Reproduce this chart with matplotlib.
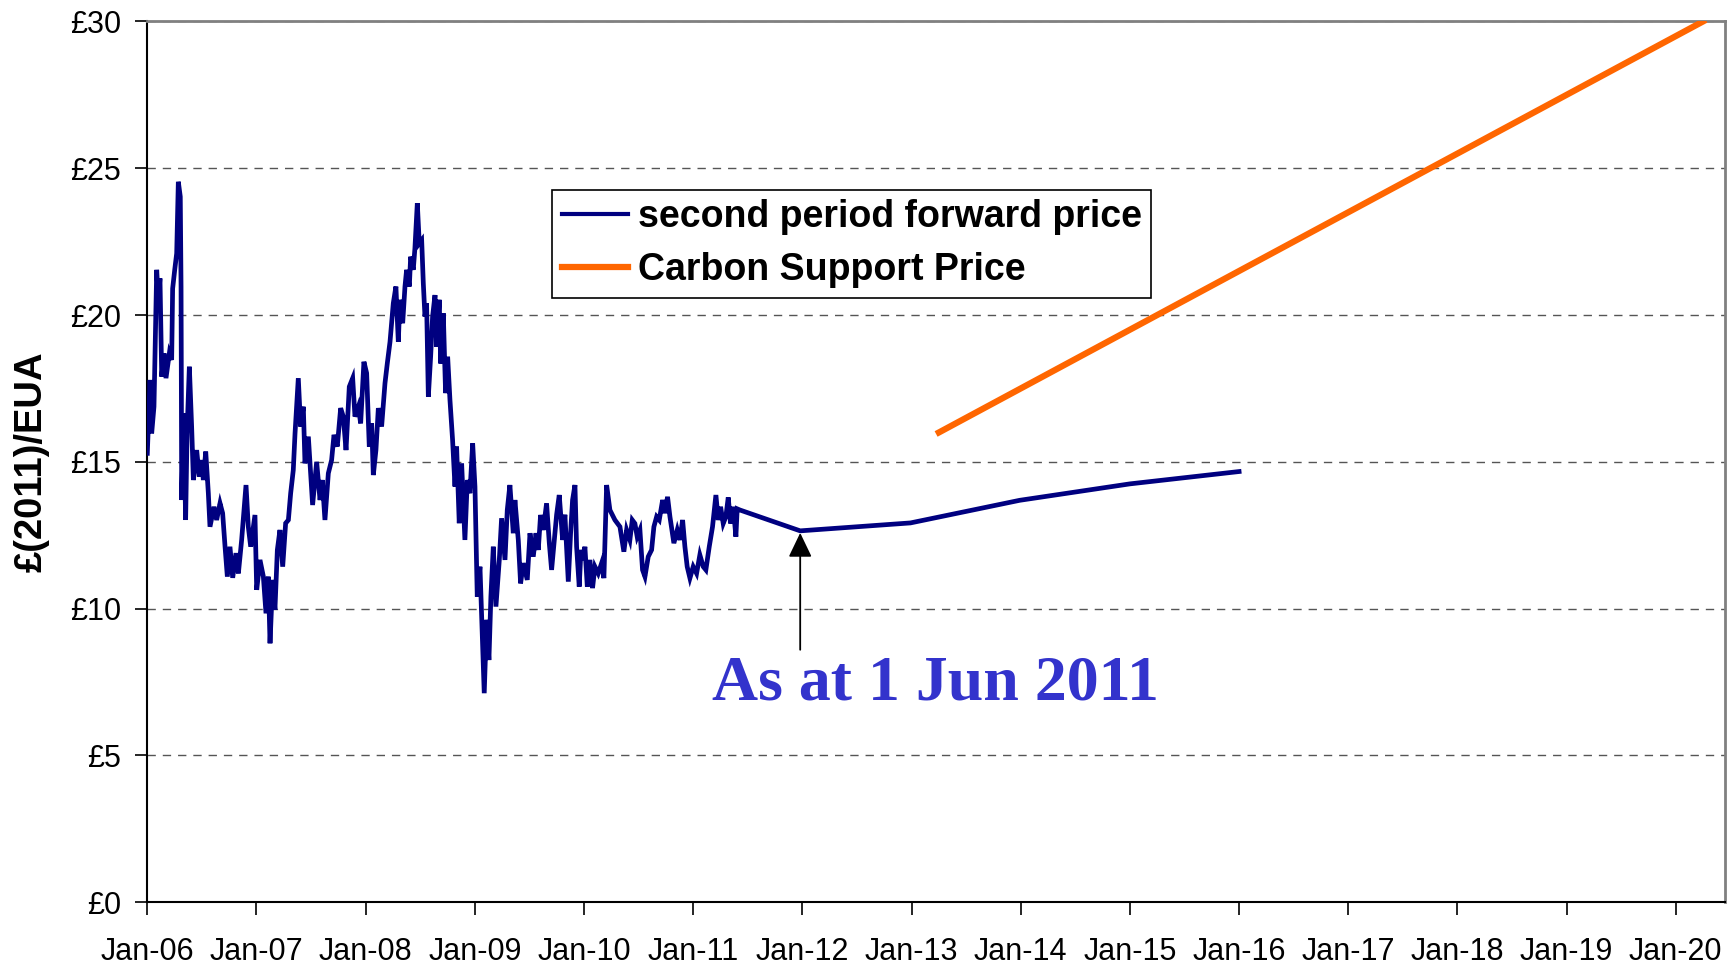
import matplotlib
matplotlib.use("Agg")
from matplotlib import pyplot as plt
from matplotlib.lines import Line2D

# daily second-period forward price (year as a float, £/EUA)
hist_x = [2006.000, 2006.025, 2006.040, 2006.061, 2006.086, 2006.101, 2006.116, 2006.132, 2006.153, 2006.171,
          2006.202, 2006.223, 2006.232, 2006.251, 2006.269, 2006.284, 2006.302, 2006.309, 2006.315, 2006.333,
          2006.351, 2006.364, 2006.385, 2006.406, 2006.422, 2006.452, 2006.476, 2006.498, 2006.513, 2006.535,
          2006.559, 2006.574, 2006.611, 2006.635, 2006.666, 2006.690, 2006.712, 2006.733, 2006.757, 2006.782,
          2006.812, 2006.834, 2006.864, 2006.904, 2006.925, 2006.947, 2006.986, 2007.002, 2007.032, 2007.063,
          2007.087, 2007.108, 2007.124, 2007.148, 2007.169, 2007.191, 2007.215, 2007.240, 2007.267, 2007.292,
          2007.313, 2007.337, 2007.353, 2007.383, 2007.404, 2007.429, 2007.444, 2007.475, 2007.514, 2007.551,
          2007.582, 2007.603, 2007.627, 2007.658, 2007.688, 2007.710, 2007.740, 2007.771, 2007.795, 2007.820,
          2007.850, 2007.881, 2007.902, 2007.933, 2007.954, 2007.984, 2008.009, 2008.033, 2008.055, 2008.070,
          2008.094, 2008.116, 2008.146, 2008.177, 2008.198, 2008.223, 2008.253, 2008.277, 2008.299, 2008.314,
          2008.339, 2008.360, 2008.375, 2008.400, 2008.412, 2008.436, 2008.451, 2008.473, 2008.491, 2008.513,
          2008.528, 2008.543, 2008.558, 2008.574, 2008.595, 2008.613, 2008.635, 2008.650, 2008.674, 2008.687,
          2008.711, 2008.732, 2008.751, 2008.772, 2008.796, 2008.818, 2008.833, 2008.857, 2008.879, 2008.909,
          2008.931, 2008.955, 2008.980, 2009.001, 2009.022, 2009.047, 2009.068, 2009.086, 2009.108, 2009.129,
          2009.147, 2009.169, 2009.193, 2009.224, 2009.245, 2009.276, 2009.297, 2009.321, 2009.352, 2009.367,
          2009.398, 2009.419, 2009.444, 2009.480, 2009.505, 2009.535, 2009.560, 2009.581, 2009.602, 2009.627,
          2009.657, 2009.682, 2009.703, 2009.734, 2009.749, 2009.773, 2009.804, 2009.825, 2009.856, 2009.877,
          2009.895, 2009.917, 2009.932, 2009.956, 2009.972, 2009.993, 2010.008, 2010.030, 2010.054, 2010.078,
          2010.100, 2010.130, 2010.161, 2010.182, 2010.207, 2010.237, 2010.283, 2010.329, 2010.365, 2010.390,
          2010.420, 2010.442, 2010.466, 2010.487, 2010.512, 2010.536, 2010.558, 2010.588, 2010.619, 2010.640,
          2010.665, 2010.689, 2010.720, 2010.741, 2010.765, 2010.787, 2010.823, 2010.854, 2010.878, 2010.903,
          2010.924, 2010.945, 2010.970, 2011.000, 2011.031, 2011.061, 2011.092, 2011.116, 2011.147, 2011.177,
          2011.208, 2011.229, 2011.251, 2011.275, 2011.299, 2011.321, 2011.342, 2011.367, 2011.391, 2011.403,
          2011.428]
hist_y = [15.29, 17.79, 15.97, 16.88, 21.54, 20.51, 21.25, 17.90, 18.70, 17.85,
          18.70, 18.47, 20.90, 21.54, 22.10, 24.54, 24.03, 20.97, 13.70, 16.65,
          13.02, 15.97, 18.24, 16.20, 14.38, 15.40, 14.50, 15.06, 14.38, 15.35,
          13.93, 12.79, 13.47, 13.02, 13.59, 13.25, 12.11, 11.09, 12.11, 11.05,
          11.89, 11.20, 12.34, 14.21, 12.79, 12.11, 13.19, 10.64, 11.66, 11.09,
          9.84, 11.09, 8.82, 10.98, 9.96, 12.00, 12.68, 11.43, 12.91, 13.02,
          13.93, 14.72, 15.97, 17.85, 16.20, 16.88, 14.95, 15.86, 13.53, 15.00,
          13.70, 14.38, 13.02, 14.61, 15.06, 15.92, 15.52, 16.83, 16.54, 15.40,
          17.56, 17.85, 16.54, 16.88, 16.31, 18.41, 18.02, 15.52, 16.31, 14.55,
          15.40, 16.83, 16.20, 17.68, 18.35, 19.09, 20.40, 20.97, 19.09, 20.52,
          19.72, 20.97, 21.54, 20.97, 21.99, 21.54, 22.27, 23.81, 22.44, 22.55,
          21.08, 19.95, 20.40, 17.22, 18.58, 19.95, 20.68, 18.92, 20.52, 18.35,
          20.06, 17.34, 18.58, 17.11, 15.75, 14.16, 15.52, 12.91, 14.95, 12.34,
          14.38, 13.93, 15.63, 14.16, 10.41, 11.43, 9.05, 7.12, 9.62, 8.25,
          10.41, 12.11, 10.07, 11.66, 13.08, 11.66, 13.36, 14.21, 12.57, 13.70,
          12.34, 10.86, 11.55, 10.98, 12.57, 11.77, 12.57, 12.00, 13.19, 12.68,
          13.59, 12.23, 11.32, 12.57, 13.20, 13.87, 12.34, 13.20, 10.92, 12.57,
          13.70, 14.21, 12.11, 10.75, 12.00, 11.66, 12.11, 10.75, 11.66, 10.70,
          11.43, 11.20, 11.55, 11.04, 14.21, 13.36, 13.02, 12.79, 11.94, 12.68,
          12.34, 13.02, 12.90, 12.45, 12.68, 11.32, 11.09, 11.77, 12.00, 12.79,
          13.13, 13.02, 13.70, 13.25, 13.81, 13.13, 12.23, 12.68, 12.34, 13.02,
          12.11, 11.43, 11.04, 11.43, 11.20, 11.83, 11.43, 11.32, 12.11, 12.79,
          13.87, 13.02, 13.47, 12.90, 13.13, 13.79, 12.90, 13.47, 12.45, 13.40,
          13.36]

# forward curve as at 1 Jun 2011 (Dec contracts)
proj_x = [2011.98, 2012.99, 2013.99, 2015.00, 2016.00]
proj_y = [12.65, 12.92, 13.69, 14.25, 14.67]

# carbon support price
csp_x = [2013.25, 2014.25, 2015.25, 2016.25, 2017.25, 2018.25, 2019.25, 2020.25]
csp_y = [16, 18, 20, 22, 24, 26, 28, 30]

years = list(range(2006, 2021))
year_labels = ["Jan-%02d" % (y - 2000) for y in years]
price_ticks = [0, 5, 10, 15, 20, 25, 30]
price_labels = ["£%d" % p for p in price_ticks]

navy = "#000080"
orange = "#FF6600"

plt.rcParams["font.family"] = ["Liberation Sans", "DejaVu Sans"]

fig = plt.figure(figsize=(17.27, 9.65), dpi=100)
ax = fig.add_axes([0.0853, 0.065, 0.9135, 0.9128])

ax.plot(hist_x + proj_x, hist_y + proj_y, color=navy, lw=3.4, solid_joinstyle="miter", zorder=3)
ax.plot(csp_x, csp_y, color=orange, lw=4.5, zorder=3)

ax.set_xlim(2006, 2020.45)
ax.set_ylim(0, 30)
ax.set_xticks(years)
ax.set_xticklabels(year_labels)
ax.set_yticks(price_ticks)
ax.set_yticklabels(price_labels)
ax.tick_params(axis="both", direction="out", length=9, width=1.2, labelsize=22)
ax.tick_params(axis="y", pad=10)
ax.tick_params(axis="x", pad=16)

ax.set_axisbelow(True)
ax.yaxis.grid(True, linestyle=(0, (6, 5)), color="#555555", linewidth=1)

for s in ["left", "bottom"]:
    ax.spines[s].set_color("black")
    ax.spines[s].set_linewidth(1.5)
for s in ["top", "right"]:
    ax.spines[s].set_color("#808080")
    ax.spines[s].set_linewidth(2)

ax.set_ylabel("£(2011)/EUA", fontsize=27.5, fontweight="bold")
ax.yaxis.set_label_coords(-0.062, 0.5)

handles = [Line2D([], [], color=navy, lw=3), Line2D([], [], color=orange, lw=4.5)]
leg = ax.legend(handles, ["second period forward price", "Carbon Support Price"],
                loc="upper left", bbox_to_anchor=(0.2567, 0.8087),
                prop={"size": 27, "weight": "bold"}, frameon=True, fancybox=False,
                edgecolor="black", framealpha=1, borderpad=0.25, labelspacing=0.45,
                handlelength=1.78, handletextpad=0.25, borderaxespad=0)
leg.get_frame().set_linewidth(1.2)

ax.annotate("", xy=(2011.98, 12.58), xytext=(2011.98, 8.6),
            arrowprops=dict(arrowstyle="-|>,head_length=0.5,head_width=0.24",
                            mutation_scale=30, color="black", lw=1.3,
                            shrinkA=0, shrinkB=0))
ax.text(2013.22, 7.4, "As at 1 Jun 2011", ha="center", va="center",
        fontsize=46, fontweight="bold", family=["Liberation Serif", "DejaVu Serif"],
        color="#3333CC")

fig.savefig("out.png", dpi=100)
